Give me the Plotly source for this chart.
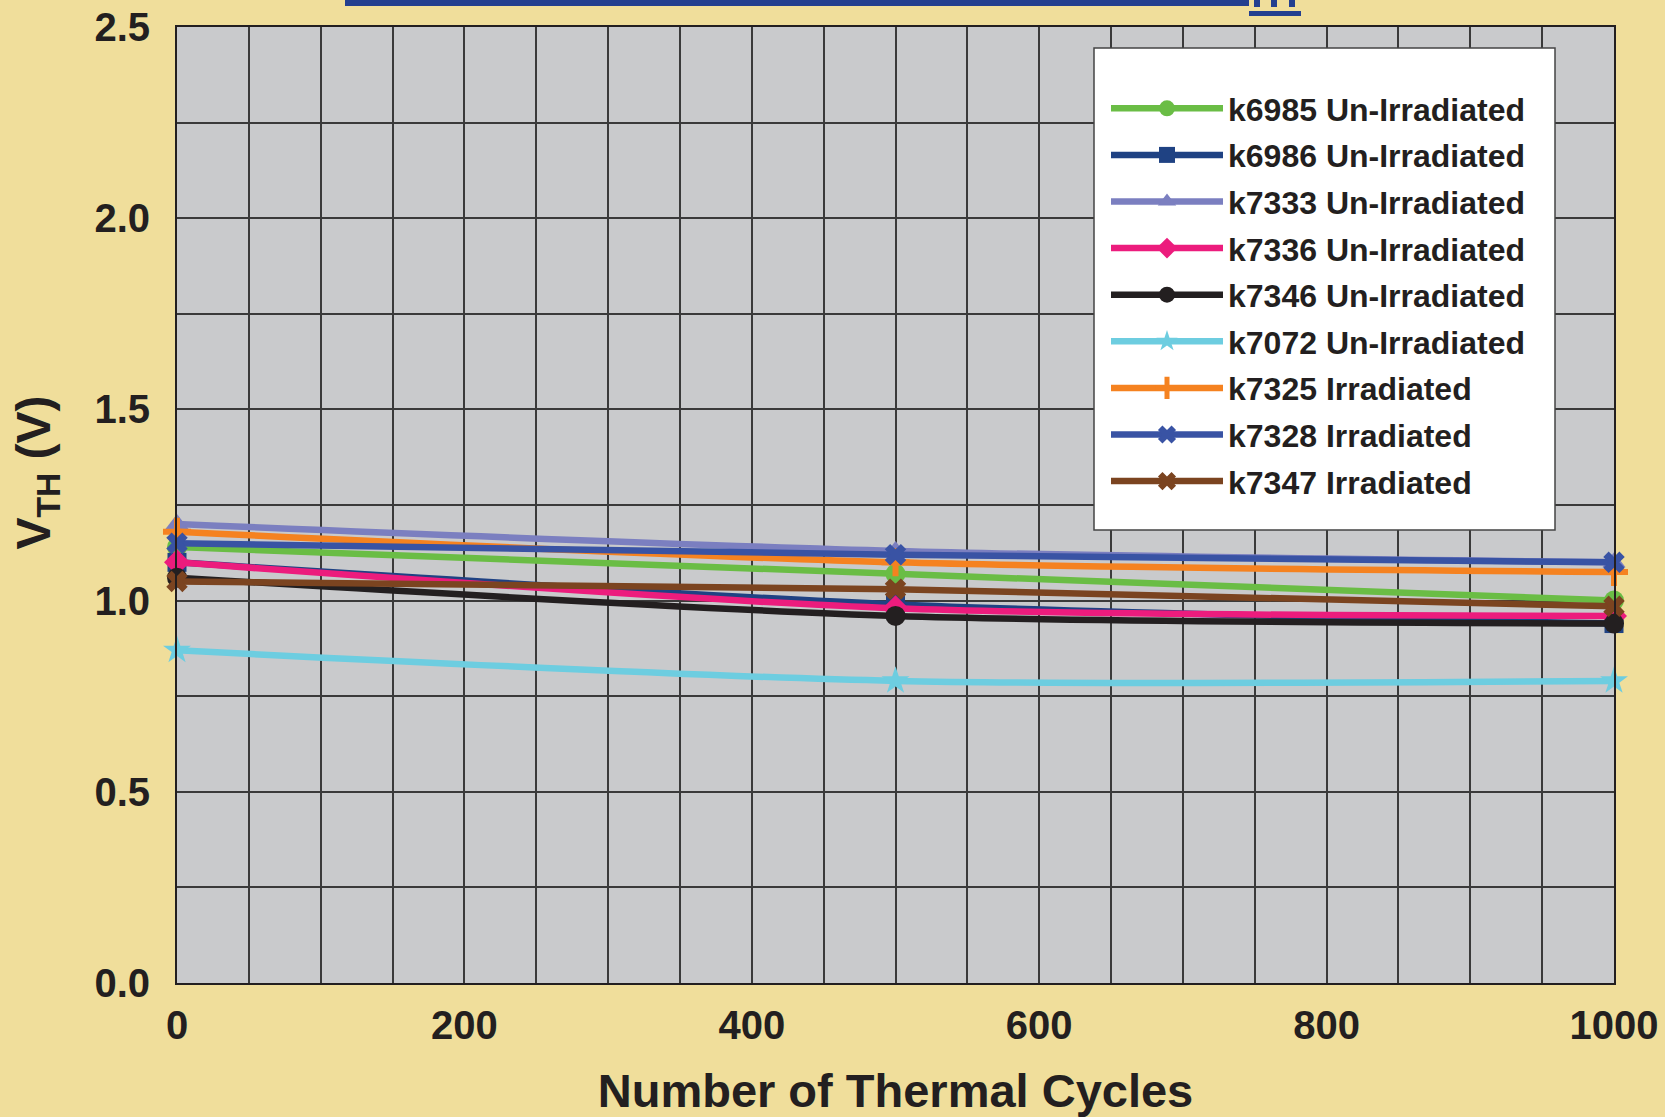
import plotly.graph_objects as go

cycles = [0, 500, 1000]

names = [
    "k6985 Un-Irradiated", "k6986 Un-Irradiated", "k7333 Un-Irradiated",
    "k7336 Un-Irradiated", "k7346 Un-Irradiated", "k7072 Un-Irradiated",
    "k7325 Irradiated", "k7328 Irradiated", "k7347 Irradiated",
]
k6985 = [1.14, 1.07, 1.00]
k6986 = [1.10, 0.99, 0.94]
k7333 = [1.20, 1.13, 1.10]
k7336 = [1.10, 0.98, 0.96]
k7346 = [1.06, 0.96, 0.94]
k7072 = [0.87, 0.79, 0.79]
k7325 = [1.18, 1.10, 1.075]
k7328 = [1.15, 1.12, 1.10]
k7347 = [1.05, 1.03, 0.985]
series = [k6985, k6986, k7333, k7336, k7346, k7072, k7325, k7328, k7347]

colors = ["#6abd45", "#1f4283", "#7b7fc0", "#ec1c7d", "#231f20",
          "#6dcde0", "#f58220", "#3953a4", "#7b4420"]
symbols = ["circle", "square", "triangle-up", "diamond", "circle",
           "star", "cross-thin", "x", "x"]
sizes = [20, 19, 20, 20, 20, 21, 20, 19, 19]

fig = go.Figure()
for i, (nm, ys) in enumerate(zip(names, series)):
    mk = dict(symbol=symbols[i], size=sizes[i], color=colors[i])
    if symbols[i] == "cross-thin":
        mk["line"] = dict(color=colors[i], width=6)
    fig.add_trace(go.Scatter(
        x=cycles, y=ys, name=nm, mode="lines+markers",
        line=dict(color=colors[i], width=6.5, shape="spline", smoothing=0.8),
        marker=mk, cliponaxis=False, legendgroup=f"g{i}",
    ))

font_family = "Liberation Sans, Arial, sans-serif"
grid_col = "#3a3a3a"

W, L, T, PW, PH = 1665, 177, 27, 1437, 956


def px(xp):
    return (xp - L) / PW


def py(yp):
    return (T + PH - yp) / PH


fig.update_layout(
    width=1665, height=1117,
    margin=dict(l=177, r=51, t=27, b=134),
    paper_bgcolor="#f0de9b",
    plot_bgcolor="#c9cacc",
    font=dict(family=font_family, color="#231f20"),
    showlegend=True,
    legend=dict(
        x=px(1106), y=py(81), xanchor="left", yanchor="top",
        bgcolor="rgba(0,0,0,0)", borderwidth=0,
        font=dict(size=32, family=font_family, color="#231f20", weight="bold"),
        itemwidth=112,
        tracegroupgap=2,
    ),
    xaxis=dict(
        range=[0, 1000], dtick=200, tick0=0, automargin=False,
        showgrid=True, gridcolor=grid_col, gridwidth=1.5,
        minor=dict(dtick=50, showgrid=True, gridcolor=grid_col, gridwidth=1.5),
        showline=True, linecolor="#231f20", linewidth=2, mirror=True,
        ticks="", zeroline=False,
        tickfont=dict(size=40, family=font_family, color="#231f20", weight="bold"),
        ticklabelstandoff=6,
        title=dict(text="<b>Number of Thermal Cycles</b>",
                   font=dict(size=47, family=font_family, color="#231f20"),
                   standoff=34),
    ),
    yaxis=dict(
        range=[0, 2.5], dtick=0.5, tick0=0, tickformat=".1f", automargin=False,
        showgrid=True, gridcolor=grid_col, gridwidth=1.5,
        minor=dict(dtick=0.25, showgrid=True, gridcolor=grid_col, gridwidth=1.5),
        showline=True, linecolor="#231f20", linewidth=2, mirror=True,
        ticks="", zeroline=False,
        tickfont=dict(size=40, family=font_family, color="#231f20", weight="bold"),
        ticklabelstandoff=17,
    ),
    annotations=[
        dict(text="<b>V<sub>TH</sub> (V)</b>", textangle=-90,
             xref="paper", yref="paper", x=-0.0974, y=0.534,
             xanchor="center", yanchor="middle", showarrow=False,
             font=dict(size=48, family=font_family, color="#231f20")),
    ],
    shapes=[
        # legend box
        dict(type="rect", xref="paper", yref="paper",
             x0=px(1094), x1=px(1555), y0=py(530), y1=py(48),
             fillcolor="#ffffff", line=dict(color="#444444", width=1.5),
             layer="above"),
        # decoration at top (clipped title above the chart)
        dict(type="rect", xref="paper", yref="paper",
             x0=px(345), x1=px(1249), y0=py(6), y1=py(-2),
             fillcolor="#233f8f", line=dict(width=0), layer="above"),
        dict(type="rect", xref="paper", yref="paper",
             x0=px(1249), x1=px(1301), y0=py(16), y1=py(11),
             fillcolor="#233f8f", line=dict(width=0), layer="above"),
    ] + [
        dict(type="rect", xref="paper", yref="paper",
             x0=px(xs), x1=px(xs + 6), y0=py(7), y1=py(-2),
             fillcolor="#233f8f", line=dict(width=0), layer="above")
        for xs in (1254, 1271, 1289)
    ],
)

fig.write_html("out.html")
